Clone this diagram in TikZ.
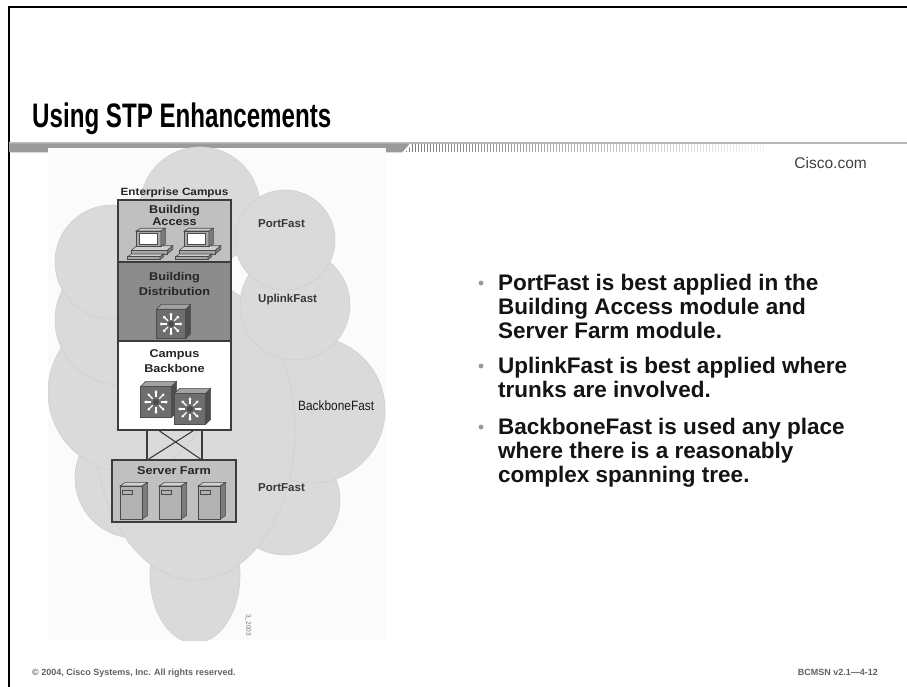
\documentclass[tikz,border=0pt]{standalone}
\usepackage{fontspec}
\usepackage{graphicx}
\setmainfont{Liberation Sans}
\newfontfamily\diafont[FakeStretch=1.12]{Liberation Sans}
\newfontfamily\titlefont[FakeStretch=0.71]{Liberation Sans}
\newfontfamily\narrowfont[FakeStretch=0.88]{Liberation Sans}
\usetikzlibrary{calc,arrows.meta}

\definecolor{cloudfill}{HTML}{DADADA}
\definecolor{cloudline}{HTML}{CFCFCF}
\definecolor{imgbg}{HTML}{FBFBFB}
\definecolor{boxline}{HTML}{3C3C3C}
\definecolor{accessfill}{HTML}{C0C0C0}
\definecolor{distfill}{HTML}{8C8C8C}
\definecolor{barfill}{HTML}{9A9A9A}
\definecolor{barline}{HTML}{B8B8B8}
\definecolor{swfront}{HTML}{6E6E6E}
\definecolor{swtop}{HTML}{A2A2A2}
\definecolor{swside}{HTML}{4E4E4E}
\definecolor{pclight}{HTML}{D0D0D0}
\definecolor{pcmid}{HTML}{A8A8A8}
\definecolor{pcdark}{HTML}{7A7A7A}
\definecolor{pcline}{HTML}{4A4A4A}
\definecolor{srvfront}{HTML}{B2B2B2}
\definecolor{srvtop}{HTML}{D2D2D2}
\definecolor{srvside}{HTML}{7C7C7C}

% multilayer switch: isometric box with a white starburst on the front
\newcommand\mlswitch[2]{%
  \begin{scope}[shift={#1}, scale=#2]
    \filldraw[draw=swside, fill=swtop, line width=0.6pt] (-16,-14) -- (-11,-19) -- (19,-19) -- (14,-14) -- cycle;
    \filldraw[draw=swside, fill=swside, line width=0.6pt] (14,-14) -- (19,-19) -- (19,11) -- (14,16) -- cycle;
    \filldraw[draw=swside, fill=swfront, line width=0.6pt] (-16,-14) rectangle (14,16);
    \foreach \a in {0,45,...,315}
      \draw[white, line width=1.4pt, -{Triangle[length=2.2pt,width=3.3pt]}]
        ($(-1,1)+(\a:4.5)$) -- ($(-1,1)+(\a:11.5)$);
    \fill[black!70] (-1,1) circle (3);
  \end{scope}}

% workstation: monitor on a flat system unit with a keyboard in front
\newcommand\pcicon[2]{%
  \begin{scope}[shift={#1}, scale=#2, every path/.style={draw=pcline, line width=0.6pt}]
    \filldraw[fill=pclight] (-5,21) -- (1,16) -- (40,16) -- (34,21) -- cycle;
    \filldraw[fill=pcmid] (-5,21) rectangle (34,25);
    \filldraw[fill=pcdark] (34,21) -- (40,16) -- (40,20) -- (34,25) -- cycle;
    \filldraw[fill=pclight] (-9,28) -- (-5,25) -- (30,25) -- (26,28) -- cycle;
    \filldraw[fill=pcmid] (-9,28) rectangle (26,31);
    \filldraw[fill=pcdark] (26,28) -- (30,25) -- (30,28) -- (26,31) -- cycle;
    \filldraw[fill=pclight] (0,0) -- (5,-3) -- (32,-3) -- (27,0) -- cycle;
    \filldraw[fill=pcmid] (0,0) rectangle (27,17);
    \filldraw[fill=pcdark] (27,0) -- (32,-3) -- (32,14) -- (27,17) -- cycle;
    \filldraw[fill=white] (4,3) rectangle (23,14);
  \end{scope}}

% tower server
\newcommand\srvicon[2]{%
  \begin{scope}[shift={#1}, scale=#2, every path/.style={draw=pcline, line width=0.6pt}]
    \filldraw[fill=srvtop] (0,0) -- (6,-4) -- (30,-4) -- (24,0) -- cycle;
    \filldraw[fill=srvside] (24,0) -- (30,-4) -- (30,32) -- (24,36) -- cycle;
    \filldraw[fill=srvfront] (0,0) rectangle (24,36);
    \draw (3,5) rectangle (13,9);
  \end{scope}}

\begin{document}
\begin{tikzpicture}[x=1pt, y=-1pt,
  tierbox/.style={draw=boxline, line width=2pt, inner sep=0pt},
  tierlabel/.style={font={\diafont\bfseries\fontsize{11.3}{15}\selectfont}, text=black!85, inner sep=0pt, align=center},
  sidelabel/.style={font={\bfseries\fontsize{11.5}{14}\selectfont}, text=black!78, inner sep=0pt, anchor=west},
  link/.style={draw=boxline, line width=1.5pt},
  bullettext/.style={font={\bfseries\fontsize{22.5}{25}\selectfont}, text=black!92, inner sep=0pt, anchor=base west},
  bulletdot/.style={fill=black!40},
  footer/.style={font={\bfseries\fontsize{9}{10}\selectfont}, text=black!62, inner sep=0pt},
  cloudpiece/.style={fill=cloudfill, draw=cloudline, line width=0.6pt}]

\useasboundingbox (0,0) rectangle (907,687);
\fill[white] (0,0) rectangle (907,687);

% slide frame
\draw[line width=2pt] (9,687) -- (9,7) -- (907,7);

% title and header bar
\node[anchor=base west, inner sep=0pt, font={\titlefont\bfseries\fontsize{34}{38}\selectfont}] (title) at (32,128) {Using STP Enhancements};
\draw[barline, line width=1.2pt] (9,143) -- (907,143);
\fill[barfill] (9,143.6) -- (410,143.6) -- (402,152.5) -- (9,152.5) -- cycle;
\begin{scope}
  \clip (405,152.5) -- (413,143.6) -- (770,143.6) -- (770,152.5) -- cycle;
  \foreach \i in {0,...,120} {
    \pgfmathsetmacro\shade{52-48*\i/120}
    \fill[black!\shade] (403+3*\i,143.6) rectangle ++(1.4,8.9);
  }
\end{scope}
\node[anchor=base east, inner sep=0pt, font={\fontsize{15.5}{18}\selectfont}, text=black!75] (cisco) at (867,169) {Cisco.com};

% campus figure background and cloud
\fill[imgbg] (48,148) rectangle (386,640);
\begin{scope}
  \clip (48,147) rectangle (386,640);
  \path[cloudpiece] (200,207) circle (60);
  \path[cloudpiece] (195,575) ellipse (45 and 68);
  \path[cloudpiece] (135,478) circle (60);
  \path[cloudpiece] (285,500) circle (55);
  \path[cloudpiece] (312,410) circle (73);
  \path[cloudpiece] (195,430) ellipse (100 and 150);
  \path[cloudpiece] (295,305) circle (55);
  \path[cloudpiece] (285,240) circle (50);
  \path[cloudpiece] (128,392) circle (80);
  \path[cloudpiece] (120,320) circle (65);
  \path[cloudpiece] (112,262) circle (57);
\end{scope}

% hierarchy tiers
\node[tierlabel, font={\diafont\bfseries\fontsize{10.5}{12}\selectfont}] (campus) at (174.5,193) {Enterprise Campus};
\node[tierbox, fill=accessfill, minimum width=113, minimum height=62] (access) at (174.5,231) {};
\node[tierbox, fill=distfill, minimum width=113, minimum height=79] (dist) at (174.5,301.5) {};
\node[tierbox, fill=white, minimum width=113, minimum height=89] (core) at (174.5,385.5) {};
\node[tierbox, fill=accessfill, minimum width=124, minimum height=62] (farm) at (174,491) {};

\node[tierlabel, font={\diafont\bfseries\fontsize{11.3}{12}\selectfont}] (accesslbl) at (174.5,215) {Building\\Access};
\node[tierlabel] (distlbl) at (174.5,284) {Building\\Distribution};
\node[tierlabel] (corelbl) at (174.5,361) {Campus\\Backbone};
\node[tierlabel] (farmlbl) at (174,471) {Server Farm};

% devices
\pcicon{(136,231)}{0.92}
\pcicon{(184,231)}{0.92}
\mlswitch{(172,323)}{0.98}
\mlswitch{(157,401)}{1.03}
\mlswitch{(191,408)}{1.03}
\srvicon{(120,486)}{0.92}
\srvicon{(159,486)}{0.92}
\srvicon{(198,486)}{0.92}

% redundant links between backbone and server farm
\coordinate (l1) at ($(core.south west)!0.26!(core.south east)$);
\coordinate (l2) at ($(core.south west)!0.74!(core.south east)$);
\coordinate (x1) at ($(core.south west)!0.37!(core.south east)$);
\coordinate (x2) at ($(core.south west)!0.66!(core.south east)$);
\coordinate (y1) at ($(farm.north west)!0.30!(farm.north east)$);
\coordinate (y2) at ($(farm.north west)!0.71!(farm.north east)$);
\draw[link] (l1) -- (l1 |- farm.north);
\draw[link] (l2) -- (l2 |- farm.north);
\draw[link, line width=1.1pt] (x1) -- (y2);
\draw[link, line width=1.1pt] (x2) -- (y1);

% STP feature labels
\node[sidelabel] (pf1) at (258,224) {PortFast};
\node[sidelabel] (ulf) at (258,300) {UplinkFast};
\node[sidelabel, font={\narrowfont\fontsize{13.5}{15}\selectfont}, text=black!90] (bbf) at (298,406) {BackboneFast};
\node[sidelabel] (pf2) at (258,488) {PortFast};
\node[inner sep=0pt, rotate=-90, font={\fontsize{6.5}{7}\selectfont}, text=black!55] (figid) at (248,625) {3\_2003};

% bullet points
\fill[bulletdot] (481,283) circle (2.4);
\fill[bulletdot] (481,366) circle (2.4);
\fill[bulletdot] (481,427) circle (2.4);
\node[bullettext] (b1a) at (498,290) {PortFast is best applied in the};
\node[bullettext] (b1b) at (498,314) {Building Access module and};
\node[bullettext] (b1c) at (498,338) {Server Farm module.};
\node[bullettext] (b2a) at (498,373) {UplinkFast is best applied where};
\node[bullettext] (b2b) at (498,397) {trunks are involved.};
\node[bullettext] (b3a) at (498,434) {BackboneFast is used any place};
\node[bullettext] (b3b) at (498,458) {where there is a reasonably};
\node[bullettext] (b3c) at (498,482) {complex spanning tree.};

% footer
\node[footer, anchor=base west] (copyright) at (32,675) {© 2004, Cisco Systems, Inc. All rights reserved.};
\node[footer, anchor=base east] (course) at (878,675) {BCMSN v2.1—4-12};
\end{tikzpicture}
\end{document}
